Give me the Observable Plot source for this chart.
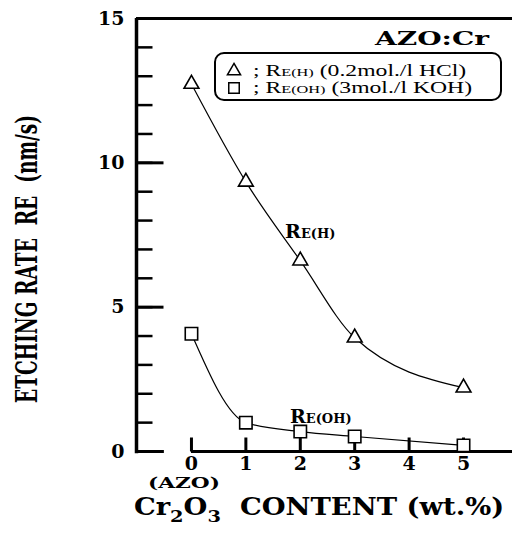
<!DOCTYPE html>
<html><head><meta charset="utf-8">
<script src="https://cdn.jsdelivr.net/npm/d3@7"></script>
<script src="https://cdn.jsdelivr.net/npm/@observablehq/plot@0.6"></script>
<style>body{margin:0;background:#fff} svg{display:block}</style>
</head><body><div id="chart"></div>
<script>
// ---- data ----
const contents = [0, 1, 2, 3, 5];                 // Cr2O3 content (wt.%)
const rateHCl  = [12.73, 9.34, 6.61, 3.94, 2.21]; // RE(H) 0.2 mol/l HCl (nm/s)
const rateKOH  = [4.08, 1.00, 0.69, 0.52, 0.21];  // RE(OH) 3 mol/l KOH (nm/s)
const xTicks = [0, 1, 2, 3, 4, 5];
const yMajor = [0, 5, 10, 15];
const yMinor = d3.range(0, 16);
const xDomain = [-1.01, 5.9];
const yDomain = [0, 15];

const hcl = contents.map((x, i) => ({x, y: rateHCl[i]}));
const koh = contents.map((x, i) => ({x, y: rateKOH[i]}));

const fontR = "Liberation Serif, serif";   // regular serif
const fontB = "DejaVu Serif, serif";       // bold serif

const W = 512, H = 534, mL = 136, mR = 0, mT = 18, mB = 83;
const pxPerX = (W - mL - mR) / (xDomain[1] - xDomain[0]);
const pxPerY = (H - mT - mB) / (yDomain[1] - yDomain[0]);

const chart = Plot.plot({
  width: W, height: H,
  marginLeft: mL, marginRight: mR, marginTop: mT, marginBottom: mB,
  style: {fontFamily: fontB},
  x: {domain: xDomain, axis: null},
  y: {domain: yDomain, axis: null},
  marks: [
    Plot.ruleX([xDomain[0]], {strokeWidth: 3.5, y1: -0.08, y2: 15, stroke: "black"}),
    Plot.ruleY([yDomain[1]], {strokeWidth: 3, stroke: "black"}),
    Plot.ruleY([0], {x1: 0, x2: xDomain[1], strokeWidth: 3, stroke: "black"}),
    Plot.ruleY([0], {x1: xDomain[0], x2: -0.5, strokeWidth: 3, stroke: "black"}),
    // inward ticks on the y axis (minor every 1, major every 5)
    Plot.link(yMinor, {x1: xDomain[0], x2: xDomain[0] + 16 / pxPerX, y1: d => d, y2: d => d, strokeWidth: 2.5, stroke: "black"}),
    Plot.link(yMajor, {x1: xDomain[0], x2: xDomain[0] + 27 / pxPerX, y1: d => d, y2: d => d, strokeWidth: 3, stroke: "black"}),
    // upward ticks on the x axis
    Plot.link(xTicks, {x1: d => d, x2: d => d, y1: 0, y2: 14 / pxPerY, strokeWidth: 3, stroke: "black"}),
    Plot.axisY(yMajor, {tickSize: 0, tickPadding: 12, fontSize: 19, fontWeight: "bold", fill: "black", label: null}),
    Plot.axisX(xTicks, {tickSize: 0, tickPadding: 5, fontSize: 19, fontWeight: "bold", fill: "black", label: null}),
    Plot.line(hcl, {x: "x", y: "y", curve: "monotone-x", strokeWidth: 1.2, stroke: "black"}),
    Plot.line(koh, {x: "x", y: "y", curve: "monotone-x", strokeWidth: 1.2, stroke: "black"}),
    Plot.dot(hcl, {x: "x", y: "y", symbol: "triangle", r: 5.5, fill: "white", stroke: "black", strokeWidth: 1.6}),
    Plot.dot(koh, {x: "x", y: "y", symbol: "square", r: 7, fill: "white", stroke: "black", strokeWidth: 1.6})
  ]
});
document.getElementById("chart").append(chart);

// ---- annotations, positioned through the chart's scales where they refer to data ----
const svg = d3.select(chart);
const sx = chart.scale("x"), sy = chart.scale("y");
const g = svg.append("g").attr("font-family", fontB).attr("fill", "#000").attr("text-anchor", "start");

function stretched(x, y, sxf, anchor) {
  return g.append("g").attr("transform", `translate(${x},${y}) scale(${sxf},1)`)
    .append("text").attr("text-anchor", anchor || "start");
}

// "(AZO)" under 0
g.append("text").attr("x", 148).attr("y", 488).attr("text-anchor", "start")
  .attr("font-size", 15).attr("font-weight", "bold")
  .attr("textLength", 72).attr("lengthAdjust", "spacingAndGlyphs")
  .text("(AZO)");

// x-axis title
{
  const t = stretched(319, 515, 1.14, "middle").attr("font-size", 24).attr("font-weight", "bold");
  t.append("tspan").text("Cr");
  t.append("tspan").attr("font-size", 17).attr("dy", 7).text("2");
  t.append("tspan").attr("dy", -7).text("O");
  t.append("tspan").attr("font-size", 17).attr("dy", 7).text("3");
  t.append("tspan").attr("dy", -7).text("\u00a0 CONTENT (wt.%)");
}

// y-axis title
g.append("text")
  .attr("transform", "translate(37,259) rotate(-90)")
  .attr("text-anchor", "middle")
  .attr("font-size", 29).attr("font-weight", "bold")
  .attr("textLength", 288).attr("lengthAdjust", "spacingAndGlyphs")
  .text("ETCHING RATE\u00a0 RE\u00a0 (nm/s)");

// AZO:Cr
g.append("text").attr("x", 375).attr("y", 45).attr("text-anchor", "start")
  .attr("font-size", 18).attr("font-weight", "bold")
  .attr("textLength", 114).attr("lengthAdjust", "spacingAndGlyphs")
  .text("AZO:Cr");

// legend
g.append("rect").attr("x", 215).attr("y", 53).attr("width", 286).attr("height", 47)
  .attr("rx", 9).attr("fill", "none").attr("stroke", "#000").attr("stroke-width", 2);
g.append("path").attr("d", d3.symbol(d3.symbolTriangle, 75)()).attr("transform", "translate(234,71)")
  .attr("fill", "none").attr("stroke", "#000").attr("stroke-width", 1.5);
g.append("path").attr("d", d3.symbol(d3.symbolSquare, 110)()).attr("transform", "translate(234,88)")
  .attr("fill", "none").attr("stroke", "#000").attr("stroke-width", 1.5);
function legendLine(y, sub, rest, sxf) {
  const t = stretched(253, y, sxf, "start").attr("font-size", 16).attr("font-family", fontR);
  t.append("tspan").text("; R");
  t.append("tspan").attr("font-size", 11).text(sub);
  t.append("tspan").text(rest);
}
legendLine(76, "E(H)", " (0.2mol./l HCl)", 1.48);
legendLine(93, "E(OH)", " (3mol./l KOH)", 1.48);

// curve labels
function curveLabel(xv, yv, sub) {
  const t = g.append("text").attr("x", sx.apply(xv)).attr("y", sy.apply(yv)).attr("text-anchor", "start")
    .attr("font-weight", "bold").attr("font-size", 19);
  t.append("tspan").text("R");
  t.append("tspan").attr("font-size", 13).text(sub);
}
curveLabel(1.73, 7.38, "E(H)");
curveLabel(1.82, 0.97, "E(OH)");
</script>
</body></html>
